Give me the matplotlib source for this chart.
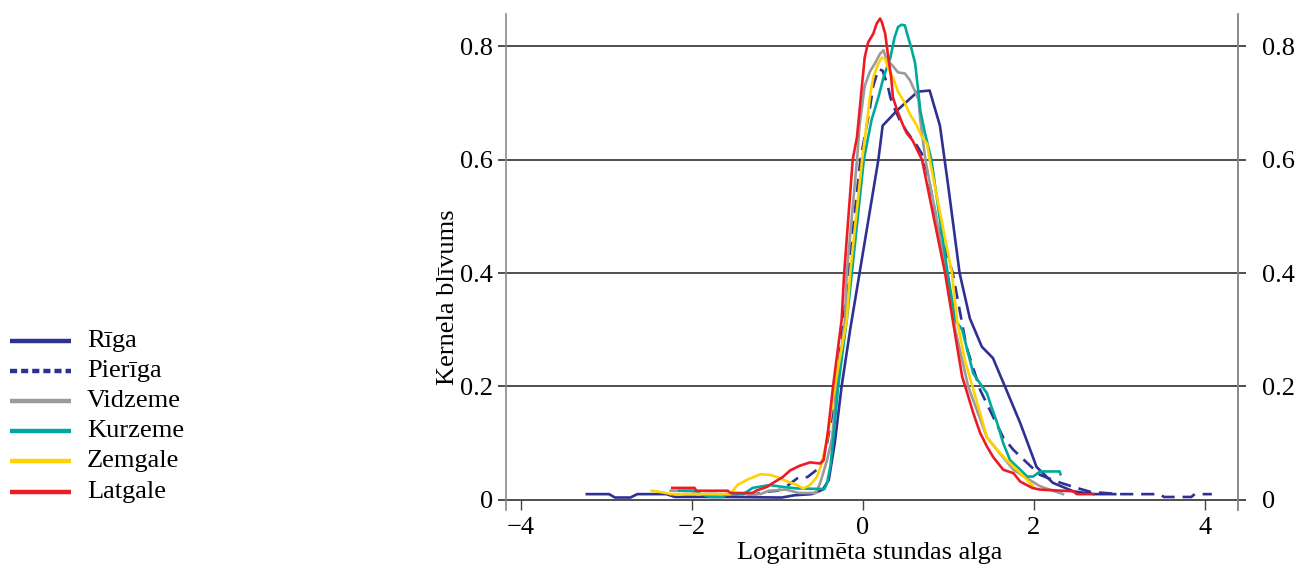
import matplotlib
matplotlib.use("Agg")
import matplotlib.pyplot as plt
from matplotlib.lines import Line2D

plt.rcParams['font.family'] = ['Liberation Serif', 'DejaVu Serif']
plt.rcParams['axes.unicode_minus'] = True

# Kernel density of log hourly wage by region
regions = ['Rīga', 'Pierīga', 'Vidzeme', 'Kurzeme', 'Zemgale', 'Latgale']
colors = ['#2e3192', '#2e3192', '#9b9b9b', '#00a99d', '#ffd200', '#ed1c24']
styles = ['-', '--', '-', '-', '-', '-']

riga_x = [-3.23, -2.97, -2.9, -2.72, -2.64, -2.3, -2.2, -1.6, -0.95, -0.8, -0.6, -0.47,
          -0.4, -0.33, -0.25, -0.15, -0.04, 0.07, 0.18, 0.23, 0.4, 0.64, 0.78, 0.9, 1.0,
          1.13, 1.25, 1.39, 1.52, 1.66, 1.84, 2.03, 2.22, 2.46, 2.7, 2.95]
riga_y = [0.01, 0.01, 0.004, 0.004, 0.01, 0.01, 0.005, 0.005, 0.004, 0.008, 0.01, 0.018,
          0.035, 0.1, 0.2, 0.3, 0.4, 0.5, 0.6, 0.66, 0.687, 0.72, 0.722, 0.66, 0.55,
          0.4, 0.32, 0.27, 0.25, 0.2, 0.135, 0.058, 0.03, 0.015, 0.01, 0.01]

pieriga_x = [-2.1, -1.25, -1.15, -1.0, -0.9, -0.75, -0.65, -0.54, -0.47, -0.42, -0.36,
             -0.31, -0.17, -0.03, 0.08, 0.12, 0.18, 0.23, 0.29, 0.32, 0.37, 0.43, 0.51,
             0.63, 0.69, 0.75, 0.88, 1.05, 1.21, 1.37, 1.52, 1.64, 1.76, 1.92, 2.07, 2.27,
             2.5, 2.66, 3.0, 3.47, 3.52, 3.84, 3.88, 4.08]
pieriga_y = [0.01, 0.01, 0.014, 0.016, 0.023, 0.04, 0.04, 0.053, 0.07, 0.1, 0.15,
             0.2, 0.4, 0.6, 0.69, 0.73, 0.76, 0.757, 0.73, 0.71, 0.69, 0.67, 0.65,
             0.625, 0.61, 0.58, 0.48, 0.4, 0.27, 0.194, 0.147, 0.11, 0.088, 0.065, 0.044, 0.032,
             0.021, 0.014, 0.01, 0.01, 0.005, 0.005, 0.01, 0.01]

vidzeme_x = [-2.25, -2.0, -1.95, -1.2, -1.1, -0.9, -0.75, -0.55, -0.5, -0.42, -0.36, -0.33,
             -0.31, -0.21, -0.19, -0.07, -0.04, 0.02, 0.08, 0.14, 0.2, 0.24, 0.28, 0.34,
             0.41, 0.49, 0.55, 0.61, 0.65, 0.67, 0.73, 0.98, 1.08, 1.23, 1.45, 1.6, 1.76,
             1.95, 2.07, 2.22, 2.34]
vidzeme_y = [0.016, 0.016, 0.01, 0.01, 0.016, 0.018, 0.012, 0.012, 0.03, 0.07, 0.11, 0.16,
             0.2, 0.317, 0.4, 0.6, 0.66, 0.73, 0.755, 0.77, 0.787, 0.793, 0.775, 0.767,
             0.754, 0.752, 0.74, 0.72, 0.705, 0.67, 0.6, 0.4, 0.3, 0.2, 0.11, 0.082, 0.053,
             0.035, 0.024, 0.016, 0.01]

kurzeme_x = [-2.15, -1.95, -1.9, -1.78, -1.64, -1.6, -1.4, -1.29, -1.09, -0.95, -0.77, -0.45,
             -0.42, -0.38, -0.34, -0.29, -0.19, -0.13, 0.01, 0.1, 0.18, 0.24, 0.32, 0.37,
             0.41, 0.45, 0.49, 0.52, 0.56, 0.61, 0.64, 0.67, 0.72, 0.8, 0.99, 1.08, 1.16,
             1.29, 1.37, 1.45, 1.5, 1.57, 1.64, 1.72, 1.84, 1.92, 1.99, 2.07, 2.3, 2.31]
kurzeme_y = [0.016, 0.016, 0.01, 0.005, 0.005, 0.01, 0.01, 0.021, 0.026, 0.023, 0.02, 0.019,
             0.03, 0.06, 0.12, 0.2, 0.317, 0.4, 0.6, 0.67, 0.71, 0.745, 0.78, 0.816,
             0.834, 0.838, 0.837, 0.82, 0.8, 0.77, 0.73, 0.687, 0.65, 0.6, 0.4, 0.317, 0.3,
             0.223, 0.205, 0.188, 0.165, 0.135, 0.1, 0.07, 0.053, 0.041, 0.041, 0.05, 0.05, 0.045]

zemgale_x = [-2.47, -2.3, -2.25, -1.55, -1.47, -1.36, -1.2, -1.09, -1.0, -0.93, -0.77, -0.7,
             -0.62, -0.54, -0.48, -0.42, -0.33, -0.19, -0.15, -0.01, 0.05, 0.08, 0.12, 0.18,
             0.22, 0.26, 0.29, 0.35, 0.41, 0.49, 0.55, 0.63, 0.69, 0.75, 0.78, 1.04, 1.1,
             1.19, 1.27, 1.37, 1.45, 1.57, 1.68, 1.8, 1.92, 1.99, 2.0]
zemgale_y = [0.016, 0.012, 0.01, 0.01, 0.026, 0.035, 0.045, 0.044, 0.04, 0.035, 0.026, 0.02,
             0.026, 0.04, 0.065, 0.106, 0.2, 0.317, 0.4, 0.6, 0.67, 0.71, 0.745, 0.77,
             0.78, 0.778, 0.763, 0.745, 0.72, 0.7, 0.68, 0.66, 0.64, 0.628, 0.6, 0.4, 0.317,
             0.247, 0.205, 0.153, 0.11, 0.088, 0.07, 0.053, 0.035, 0.024, 0.02]

latgale_x = [-2.23, -1.97, -1.95, -1.58, -1.55, -1.29, -1.25, -1.12, -1.05, -0.94, -0.85,
             -0.74, -0.62, -0.5, -0.46, -0.41, -0.35, -0.25, -0.22, -0.12, -0.07, -0.01, 0.02,
             0.06, 0.12, 0.16, 0.2, 0.22, 0.26, 0.29, 0.33, 0.35, 0.4, 0.46, 0.51, 0.58, 0.69,
             0.96, 1.05, 1.16, 1.22, 1.29, 1.37, 1.45, 1.52, 1.64, 1.76, 1.84, 1.98, 2.07,
             2.46, 2.5, 2.69]
latgale_y = [0.021, 0.021, 0.016, 0.016, 0.012, 0.012, 0.016, 0.023, 0.03, 0.04, 0.052,
             0.06, 0.066, 0.064, 0.07, 0.12, 0.2, 0.317, 0.4, 0.6, 0.64, 0.734, 0.78,
             0.807, 0.822, 0.84, 0.849, 0.843, 0.822, 0.787, 0.745, 0.71, 0.687, 0.664, 0.647, 0.634, 0.6,
             0.4, 0.317, 0.217, 0.188, 0.153, 0.118, 0.094, 0.076, 0.053, 0.047, 0.032, 0.021, 0.018,
             0.015, 0.01, 0.01]

series_x = [riga_x, pieriga_x, vidzeme_x, kurzeme_x, zemgale_x, latgale_x]
series_y = [riga_y, pieriga_y, vidzeme_y, kurzeme_y, zemgale_y, latgale_y]

x_ticks = [-4, -2, 0, 2, 4]
y_ticks = [0, 0.2, 0.4, 0.6, 0.8]
y_tick_labels = ['0', '0.2', '0.4', '0.6', '0.8']

FS = 19
W, H = 1312, 569
fig = plt.figure(figsize=(W / 100, H / 100), dpi=100)
ax = fig.add_axes([506 / W, 1 - 510 / H, (1238 - 506) / W, (510 - 14) / H])
ax.set_xlim(-4.175, 4.386)
ax.set_ylim(-0.018, 0.857)

# horizontal reference lines
for yv in y_ticks:
    ax.axhline(yv, color='#1e1e1e', lw=1.1, zorder=1)

for xs, ys, c, ls, name in zip(series_x, series_y, colors, styles, regions):
    if ls == '--':
        ax.plot(xs, ys, color=c, lw=1.9, dashes=(5, 3), zorder=3)
    else:
        ax.plot(xs, ys, color=c, lw=1.9, zorder=3)

for s in ['top', 'bottom']:
    ax.spines[s].set_visible(False)
for s in ['left', 'right']:
    ax.spines[s].set_color('#8a8a8a')
    ax.spines[s].set_linewidth(1.2)

ax.set_xticks(x_ticks)
ax.tick_params(axis='x', direction='in', length=7.2, width=1.0, color='#444444',
               labelsize=FS, pad=5)
ax.set_yticks(y_ticks)
ax.set_yticklabels(y_tick_labels)
ax.tick_params(axis='y', direction='out', length=6, width=1.1, color='#1e1e1e',
               labelsize=FS, pad=3.5, left=True, right=False)

ax2 = ax.twinx()
ax2.set_ylim(ax.get_ylim())
ax2.set_yticks(y_ticks)
ax2.set_yticklabels(y_tick_labels)
ax2.tick_params(axis='y', direction='out', length=6, width=1.1, color='#1e1e1e',
                labelsize=FS, pad=11)
for s in ['top', 'bottom', 'left']:
    ax2.spines[s].set_visible(False)
ax2.spines['right'].set_color('#8a8a8a')
ax2.spines['right'].set_linewidth(1.2)

fig.text(870 / W, 1 - 553 / H, 'Logaritmēta stundas alga', fontsize=FS,
         ha='center', va='center')
fig.text(448 / W, 1 - 297 / H, 'Kernela blīvums', fontsize=FS, rotation=90,
         ha='center', va='center')

# legend drawn at the left of the figure
row_y = [341, 371, 401, 431, 461, 492]
for name, c, ls, py in zip(regions, colors, styles, row_y):
    yf = 1 - py / H
    ln = Line2D([10 / W, 71 / W], [yf, yf], transform=fig.transFigure,
                color=c, lw=3.2, solid_capstyle='butt')
    if ls == '--':
        ln.set_dashes((1.6, 0.9))
    fig.add_artist(ln)
    fig.text(87 / W, yf, name, fontsize=FS, ha='left', va='center')

fig.savefig('out.png', dpi=100)
